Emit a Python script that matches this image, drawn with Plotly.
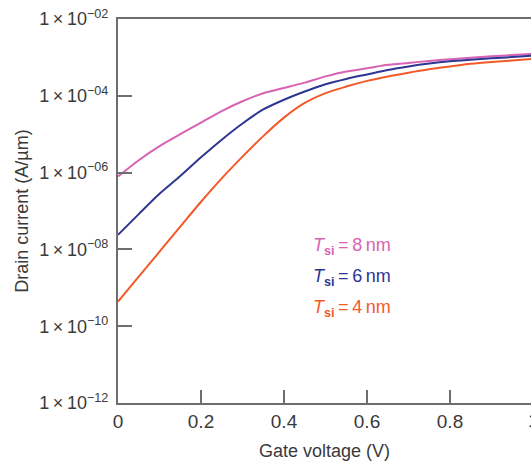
import plotly.graph_objects as go

# Gate voltage sweep (V)
gate_voltage = [0.0, 0.05, 0.10, 0.15, 0.20, 0.25, 0.30, 0.35, 0.40, 0.45, 0.50,
                0.55, 0.60, 0.65, 0.70, 0.75, 0.80, 0.85, 0.90, 0.95, 1.00]

# Drain current (A/um) for each silicon thickness
id_tsi_8nm = [7.9e-7, 2.1e-6, 4.9e-6, 1.0e-5, 2.0e-5, 4.0e-5, 7.2e-5, 1.17e-4, 1.6e-4, 2.2e-4, 3.2e-4,
              4.3e-4, 5.2e-4, 6.4e-4, 7.2e-4, 8.1e-4, 8.9e-4, 9.8e-4, 1.07e-3, 1.15e-3, 1.23e-3]
id_tsi_6nm = [2.4e-8, 8.3e-8, 2.8e-7, 8.1e-7, 2.5e-6, 7.2e-6, 1.9e-5, 4.4e-5, 7.9e-5, 1.29e-4, 2.0e-4,
              2.75e-4, 3.6e-4, 4.7e-4, 5.8e-4, 6.9e-4, 7.9e-4, 8.7e-4, 9.5e-4, 1.02e-3, 1.12e-3]
id_tsi_4nm = [4.4e-10, 1.95e-9, 8.7e-9, 3.9e-8, 1.74e-7, 7.1e-7, 2.6e-6, 8.9e-6, 2.7e-5, 6.5e-5, 1.17e-4,
              1.74e-4, 2.45e-4, 3.2e-4, 4.0e-4, 4.9e-4, 5.8e-4, 6.8e-4, 7.6e-4, 8.3e-4, 9.1e-4]

series_labels = ["8", "6", "4"]
series_colors = ["#d862b4", "#2e3592", "#f25a2a"]

y_tick_vals = [1e-12, 1e-10, 1e-8, 1e-6, 1e-4, 1e-2]
y_tick_exp = ["12", "10", "08", "06", "04", "02"]
y_tick_text = [f"1\u2009\u00d7\u200910<sup>\u2212{e}</sup>" for e in y_tick_exp]
x_tick_vals = [0, 0.2, 0.4, 0.6, 0.8]
x_tick_text = ["0", "0.2", "0.4", "0.6", "0.8"]

FONT = "Liberation Sans, Arial, sans-serif"
AXIS_COLOR = "#6e6e6e"
TEXT_COLOR = "#3a3a3a"

fig = go.Figure()
for ys, col in zip([id_tsi_8nm, id_tsi_6nm, id_tsi_4nm], series_colors):
    fig.add_trace(go.Scatter(x=gate_voltage, y=ys, mode="lines",
                             line=dict(color=col, width=2, shape="spline", smoothing=0.8),
                             showlegend=False))

# Series labels placed inside the plot
label_y = [246, 277, 308]
for lab, col, yp in zip(series_labels, series_colors, label_y):
    fig.add_annotation(
        text=f"<i>T</i><sub><b>si</b></sub>\u2009=\u2009{lab}\u2009nm",
        xref="paper", yref="paper",
        x=(311 - 118) / 413, y=1 - (yp - 19) / 384,
        xanchor="left", yanchor="middle", showarrow=False,
        font=dict(family=FONT, size=18, color=col))

# Last x tick label, only partly inside the canvas
fig.add_annotation(text="1", xref="paper", yref="paper", x=415 / 413, y=0,
                   yshift=-17, xanchor="center", yanchor="middle", showarrow=False,
                   font=dict(family=FONT, size=19, color=TEXT_COLOR))

fig.update_layout(
    width=531, height=461,
    margin=dict(l=118, r=0, t=19, b=58),
    paper_bgcolor="white", plot_bgcolor="white",
    font=dict(family=FONT, color=TEXT_COLOR),
    xaxis=dict(range=[0, 413 / 415], tickvals=x_tick_vals, ticktext=x_tick_text,
               ticks="inside", ticklen=13, tickwidth=1.5, tickcolor=AXIS_COLOR,
               showline=True, linecolor=AXIS_COLOR, linewidth=2, mirror=True,
               showgrid=False, zeroline=False,
               tickfont=dict(size=19, color=TEXT_COLOR),
               title=dict(text="Gate voltage (V)", font=dict(size=18, color=TEXT_COLOR),
                          standoff=14)),
    yaxis=dict(type="log", range=[-12, -2], tickvals=y_tick_vals, ticktext=y_tick_text,
               ticks="inside", ticklen=14, tickwidth=1.5, tickcolor=AXIS_COLOR,
               showline=True, linecolor=AXIS_COLOR, linewidth=2,
               showgrid=False, zeroline=False, ticklabelstandoff=4,
               tickfont=dict(size=18, color=TEXT_COLOR),
               title=dict(text="Drain current (A/\u00b5m)", font=dict(size=18, color=TEXT_COLOR),
                          standoff=6)),
)

fig.write_html("out.html")
